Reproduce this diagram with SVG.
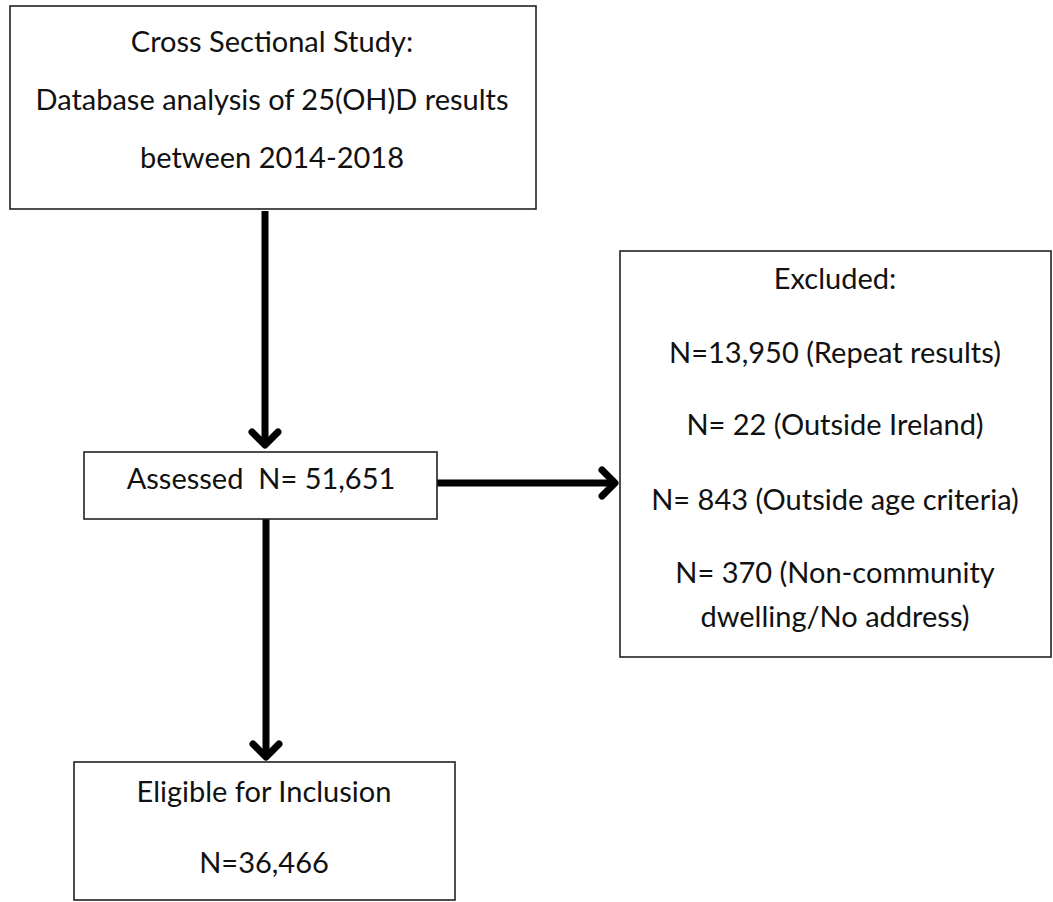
<svg xmlns="http://www.w3.org/2000/svg" width="1053" height="902" viewBox="0 0 1053 902">
  <style>
    .box { fill: #ffffff; stroke: #222222; stroke-width: 1.6; }
    .t { font-family: Lato, "Open Sans", sans-serif; font-size: 29px; fill: #111111; text-anchor: middle; }
    .conn { stroke: #000000; stroke-width: 7; fill: none; }
  </style>
  <defs>
    <marker id="chev" markerUnits="userSpaceOnUse" markerWidth="40" markerHeight="40" refX="0" refY="0" orient="auto" overflow="visible">
      <path d="M-13,-13 L0,0 L-13,13" fill="none" stroke="#000" stroke-width="7" stroke-linejoin="round" stroke-linecap="round"/>
    </marker>
  </defs>
  <rect width="1053" height="902" fill="#ffffff"/>

  <g id="connectors">
    <line class="conn" x1="265" y1="211" x2="265" y2="445" marker-end="url(#chev)"/>
    <line class="conn" x1="437" y1="483" x2="615" y2="483" marker-end="url(#chev)"/>
    <line class="conn" x1="266" y1="519" x2="266" y2="757" marker-end="url(#chev)"/>
  </g>

  <g id="node-study">
    <rect class="box" x="10" y="6" width="526" height="203" stroke-width="2"/>
    <text class="t" x="272" y="52">Cross Sectional Study:</text>
    <text class="t" x="272" y="110">Database analysis of 25(OH)D results</text>
    <text class="t" x="272" y="168">between 2014-2018</text>
  </g>

  <g id="node-assessed">
    <rect class="box" x="84" y="452" width="353" height="67"/>
    <text class="t" x="261" y="489" xml:space="preserve">Assessed  N= 51,651</text>
  </g>

  <g id="node-excluded">
    <rect class="box" x="620" y="251" width="431" height="406"/>
    <text class="t" x="835" y="289">Excluded:</text>
    <text class="t" x="835" y="363">N=13,950 (Repeat results)</text>
    <text class="t" x="835" y="435">N= 22 (Outside Ireland)</text>
    <text class="t" x="835" y="510">N= 843 (Outside age criteria)</text>
    <text class="t" x="835" y="583">N= 370 (Non-community</text>
    <text class="t" x="835" y="627">dwelling/No address)</text>
  </g>

  <g id="node-eligible">
    <rect class="box" x="74" y="762" width="381" height="138"/>
    <text class="t" x="264" y="802">Eligible for Inclusion</text>
    <text class="t" x="264" y="873">N=36,466</text>
  </g>
</svg>
